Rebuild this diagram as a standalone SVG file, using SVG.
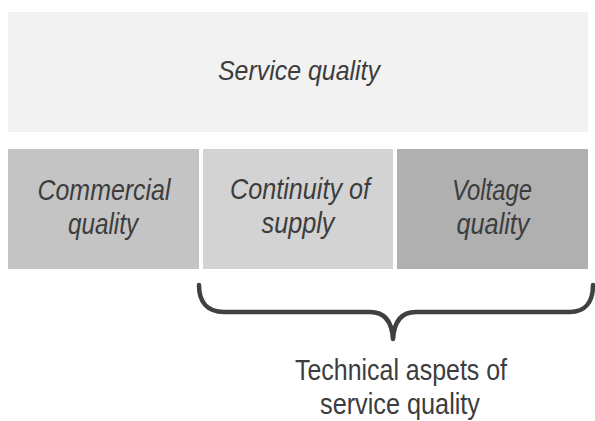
<svg xmlns="http://www.w3.org/2000/svg" width="595" height="421" viewBox="0 0 595 421">
  <style>
    .lbl { font-family: "Liberation Sans", Arial, sans-serif; font-size: 30px; fill: #3d3d3d; font-style: italic; text-anchor: middle; }
    .cap { font-family: "Liberation Sans", Arial, sans-serif; font-size: 30px; fill: #3d3d3d; text-anchor: middle; }
    .brace { fill: none; stroke: #404040; stroke-width: 4.5; stroke-linecap: round; stroke-linejoin: round; }
  </style>
  <rect width="595" height="421" fill="#ffffff"/>

  <g id="service-quality">
    <rect x="8" y="12" width="580" height="120" fill="#f2f2f2"/>
    <text class="lbl" x="299" y="79.5" textLength="162" lengthAdjust="spacingAndGlyphs" style="font-size:28.5px">Service quality</text>
  </g>

  <g id="commercial-quality">
    <rect x="8" y="149" width="191" height="120" fill="#c4c4c4"/>
    <text class="lbl" x="104" y="200" textLength="133" lengthAdjust="spacingAndGlyphs">Commercial</text>
    <text class="lbl" x="103" y="234" textLength="70" lengthAdjust="spacingAndGlyphs">quality</text>
  </g>

  <g id="continuity-of-supply">
    <rect x="203" y="149" width="190" height="120" fill="#d3d3d3"/>
    <text class="lbl" x="300" y="199" textLength="140" lengthAdjust="spacingAndGlyphs">Continuity of</text>
    <text class="lbl" x="298" y="233" textLength="73" lengthAdjust="spacingAndGlyphs">supply</text>
  </g>

  <g id="voltage-quality">
    <rect x="397" y="149" width="191" height="120" fill="#b0b0b0"/>
    <text class="lbl" x="492" y="200" textLength="80" lengthAdjust="spacingAndGlyphs">Voltage</text>
    <text class="lbl" x="493" y="234" textLength="73" lengthAdjust="spacingAndGlyphs">quality</text>
  </g>

  <g id="connectors">
    <!-- curly brace grouping the two technical aspects -->
    <path class="brace" d="M199,285 C199,302 207,312 224,312 L370,312 C385,312 392,322 393,339 C394,322 401,312 416,312 L570,312 C585,312 593,302 593,285"/>
  </g>

  <g id="technical-aspects">
    <text class="cap" x="401" y="379.5" textLength="212" lengthAdjust="spacingAndGlyphs">Technical aspets of</text>
    <text class="cap" x="400" y="414" textLength="160" lengthAdjust="spacingAndGlyphs">service quality</text>
  </g>
</svg>
